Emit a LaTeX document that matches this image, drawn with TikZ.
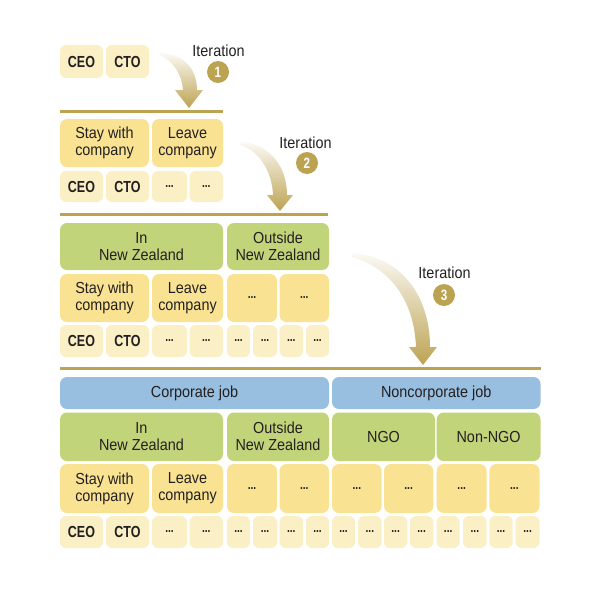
\documentclass[tikz,border=0pt]{standalone}
\usepackage{fontspec}
\setmainfont{Liberation Sans}[FakeStretch=0.9]
\newfontfamily\ceofont{Liberation Sans}[FakeStretch=0.78]
\definecolor{yelC}{HTML}{F9E393}
\definecolor{lyelC}{HTML}{FBEFC5}
\definecolor{grnC}{HTML}{C2D47A}
\definecolor{bluC}{HTML}{98BFDF}
\definecolor{goldC}{HTML}{BCA352}
\definecolor{txtC}{HTML}{231F20}
\newcommand\cell[7]{%
  \pgfmathsetmacro\cx{(#3+#5)/2}\pgfmathsetmacro\cy{(#4+#6)/2}%
  \pgfmathsetmacro\cw{#5-#3}\pgfmathsetmacro\ch{#6-#4}%
  \node[#1, minimum width=\cw pt, minimum height=\ch pt] (#2) at (\cx,\cy) {#7};}
\newcommand\ceo{\ceofont\bfseries CEO}
\newcommand\cto{\ceofont\bfseries CTO}
\newcommand\dd{\ceofont\bfseries\fontsize{13}{13}\selectfont ...}
\begin{document}
\begin{tikzpicture}[x=1pt,y=-1pt,
  box/.style={rounded corners=7pt, inner sep=0pt, align=center, text=txtC,
    font=\fontsize{16}{17}\selectfont},
  yel/.style={box, fill=yelC},
  lyel/.style={box, fill=lyelC, rounded corners=6pt},
  grn/.style={box, fill=grnC},
  blu/.style={box, fill=bluC},
  sep/.style={draw=goldC, line width=3pt},
  arr/.style={top color=goldC!6, bottom color=goldC},
  itlab/.style={text=txtC, font=\fontsize{16}{17}\selectfont, inner sep=0pt},
  num/.style={circle, fill=goldC, minimum size=22pt, inner sep=0pt, text=white,
    font=\ceofont\bfseries\fontsize{15}{15}\selectfont}]
\useasboundingbox (0,0) rectangle (600,600);
% ---------- level 1
\cell{lyel}{a1}{60}{45}{103}{78}{\ceo}
\cell{lyel}{a2}{106}{45}{149}{78}{\cto}
\coordinate (l1a) at (60,111); \coordinate (l1b) at (223,111);
\draw[sep] (l1a) -- (l1b);
% ---------- level 2
\cell{yel}{b3a}{60}{119}{149}{167}{Stay with\\company}
\cell{yel}{b3b}{152}{119}{223}{167}{Leave\\company}
\cell{lyel}{b4a}{60}{171}{103}{202}{\ceo}
\cell{lyel}{b4b}{106}{171}{149}{202}{\cto}
\cell{lyel}{b4c}{152}{171}{187}{202}{\dd}
\cell{lyel}{b4d}{189.5}{171}{223}{202}{\dd}
\coordinate (l2a) at (60,214.5); \coordinate (l2b) at (328,214.5);
\draw[sep] (l2a) -- (l2b);
% ---------- level 3
\cell{grn}{c2a}{60}{223}{223}{270}{In\\New Zealand}
\cell{grn}{c2b}{227}{223}{329}{270}{Outside\\New Zealand}
\cell{yel}{c3a}{60}{274}{149}{322}{Stay with\\company}
\cell{yel}{c3b}{152}{274}{223}{322}{Leave\\company}
\cell{yel}{c3c}{227}{274}{277}{322}{\dd}
\cell{yel}{c3d}{279.5}{274}{329}{322}{\dd}
\cell{lyel}{c4a}{60}{325}{103}{357}{\ceo}
\cell{lyel}{c4b}{106}{325}{149}{357}{\cto}
\cell{lyel}{c4c}{152}{325}{187}{357}{\dd}
\cell{lyel}{c4d}{189.5}{325}{223}{357}{\dd}
\cell{lyel}{c4e}{227}{325}{250}{357}{\dd}
\cell{lyel}{c4f}{253}{325}{277}{357}{\dd}
\cell{lyel}{c4g}{279.5}{325}{303}{357}{\dd}
\cell{lyel}{c4h}{306}{325}{329}{357}{\dd}
\coordinate (l3a) at (60,368.5); \coordinate (l3b) at (540.5,368.5);
\draw[sep] (l3a) -- (l3b);
% ---------- level 4
\cell{blu}{d1a}{60}{377}{329}{409}{Corporate job}
\cell{blu}{d1b}{332}{377}{540.5}{409}{Noncorporate job}
\cell{grn}{d2a}{60}{412.5}{223}{461}{In\\New Zealand}
\cell{grn}{d2b}{227}{412.5}{329}{461}{Outside\\New Zealand}
\cell{grn}{d2c}{332}{412.5}{435}{461}{NGO}
\cell{grn}{d2d}{436.7}{412.5}{540.5}{461}{Non-NGO}
\cell{yel}{d3a}{60}{464}{149}{513}{Stay with\\company}
\cell{yel}{d3b}{152}{464}{223}{513}{Leave\\company}
\cell{yel}{d3c}{227}{464}{277}{513}{\dd}
\cell{yel}{d3d}{279.5}{464}{329}{513}{\dd}
\cell{yel}{d3e}{332}{464}{381.7}{513}{\dd}
\cell{yel}{d3f}{384}{464}{433.3}{513}{\dd}
\cell{yel}{d3g}{436.7}{464}{486.7}{513}{\dd}
\cell{yel}{d3h}{489.3}{464}{539.5}{513}{\dd}
\cell{lyel}{d4a}{60}{516}{103}{548}{\ceo}
\cell{lyel}{d4b}{106}{516}{149}{548}{\cto}
\cell{lyel}{d4c}{152}{516}{187}{548}{\dd}
\cell{lyel}{d4d}{189.5}{516}{223}{548}{\dd}
\cell{lyel}{d4e}{227}{516}{250}{548}{\dd}
\cell{lyel}{d4f}{253}{516}{277}{548}{\dd}
\cell{lyel}{d4g}{279.5}{516}{303}{548}{\dd}
\cell{lyel}{d4h}{306}{516}{329}{548}{\dd}
\cell{lyel}{d4i}{332}{516}{355}{548}{\dd}
\cell{lyel}{d4j}{358}{516}{381.7}{548}{\dd}
\cell{lyel}{d4k}{384}{516}{407.3}{548}{\dd}
\cell{lyel}{d4l}{410}{516}{433.3}{548}{\dd}
\cell{lyel}{d4m}{436.7}{516}{459.7}{548}{\dd}
\cell{lyel}{d4n}{463}{516}{486.7}{548}{\dd}
\cell{lyel}{d4o}{489.3}{516}{512.7}{548}{\dd}
\cell{lyel}{d4p}{515.7}{516}{539.5}{548}{\dd}
% ---------- arrows
\shade[arr] (160,53) .. controls (185,54) and (197,70) .. (197,90) -- (203,90)
  -- (189,108) -- (175,90) -- (183,90) .. controls (182,75) and (174,62) .. (160,55) -- cycle;
\shade[arr] (240,142) .. controls (268,143) and (287,165) .. (287,195) -- (293,195)
  -- (280,211) -- (267,195) -- (273,195) .. controls (272,170) and (258,150) .. (240,145) -- cycle;
\shade[arr] (352,253) .. controls (400,256) and (430,295) .. (430,347) -- (437,347)
  -- (423,365) -- (409,347) -- (416,347) .. controls (414,300) and (390,268) .. (352,257) -- cycle;
% ---------- iteration labels
\node[itlab] (it1) at (218.5,51) {Iteration};
\node[num] (n1) at (218,72) {1};
\node[itlab] (it2) at (305.5,143) {Iteration};
\node[num] (n2) at (307,163) {2};
\node[itlab] (it3) at (444.5,273) {Iteration};
\node[num] (n3) at (444,295) {3};
\end{tikzpicture}
\end{document}
